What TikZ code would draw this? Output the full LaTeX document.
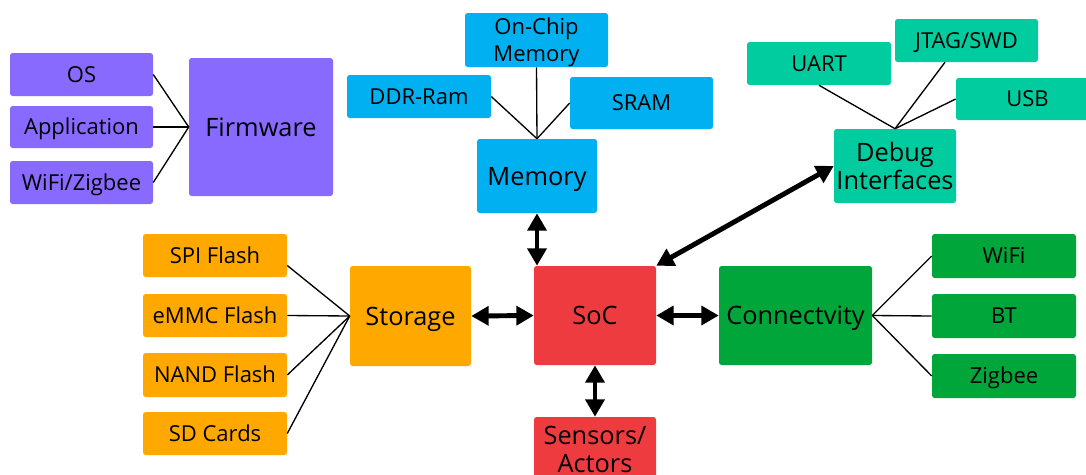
\documentclass[tikz,border=0pt]{standalone}
\usepackage{fontspec}
\setmainfont{Open Sans}
\usetikzlibrary{arrows.meta,calc}
\definecolor{cpurple}{HTML}{886AFF}
\definecolor{cblue}{HTML}{00B0F0}
\definecolor{cteal}{HTML}{00CCA0}
\definecolor{corange}{HTML}{FFA800}
\definecolor{cred}{HTML}{EE3B40}
\definecolor{cgreen}{HTML}{00A63A}
\tikzset{
  box/.style={rectangle, rounded corners=2pt, inner sep=0pt, align=center, text=black, draw=none},
  small/.style={box, font=\fontsize{16.5}{20}\selectfont, text height=15.8pt, text depth=4pt},
  smalltwo/.style={box, font=\fontsize{16.5}{20}\selectfont, text height=35.8pt, text depth=4pt},
  big/.style={box, font=\fontsize{19}{21}\selectfont, text height=18.6pt, text depth=5pt},
  bigtwo/.style={box, font=\fontsize{19}{21}\selectfont, text height=39.6pt, text depth=5pt},
  link/.style={draw=black, line width=1pt},
  bus/.style={draw=black, line width=3.7pt, {Triangle[length=13pt,width=14pt]}-{Triangle[length=13pt,width=14pt]}},
}
\begin{document}
\begin{tikzpicture}[x=0.75pt,y=-0.75pt]
\useasboundingbox (0,0) rectangle (1086,475);
\clip (0,0) rectangle (1086,475);
% Firmware
\node[small, fill=cpurple, minimum width=107.25pt, minimum height=32.25pt] (os) at (81.5,74.5) {OS};
\node[small, fill=cpurple, minimum width=107.25pt, minimum height=31.5pt] (app) at (81.5,127) {Application};
\node[small, fill=cpurple, minimum width=107.25pt, minimum height=32.25pt] (wz) at (81.5,182.5) {WiFi/Zigbee};
\node[big, fill=cpurple, minimum width=108pt, minimum height=103.5pt] (fw) at (261,127) {Firmware};
% Memory
\node[smalltwo, fill=cblue, minimum width=107.25pt, minimum height=40.5pt] (ocm) at (536.5,40) {On-Chip\\Memory};
\node[small, fill=cblue, minimum width=108pt, minimum height=32.25pt] (ddr) at (419,96.5) {DDR-Ram};
\node[small, fill=cblue, minimum width=107.25pt, minimum height=39pt] (sram) at (641.5,103) {SRAM};
\node[big, fill=cblue, minimum width=90pt, minimum height=55.5pt] (mem) at (537,176) {Memory};
% Debug
\node[small, fill=cteal, minimum width=108pt, minimum height=32.25pt] (uart) at (819,63.5) {UART};
\node[small, fill=cteal, minimum width=107.25pt, minimum height=32.25pt] (jtag) at (966.5,40.5) {JTAG/SWD};
\node[small, fill=cteal, minimum width=107.25pt, minimum height=31.5pt] (usb) at (1027.5,99) {USB};
\node[bigtwo, fill=cteal, minimum width=91.5pt, minimum height=55.5pt] (dbg) at (895,166) {Debug\\Interfaces};
% Storage
\node[small, fill=corange, minimum width=108pt, minimum height=32.25pt] (spi) at (215,255.5) {SPI Flash};
\node[small, fill=corange, minimum width=108pt, minimum height=32.25pt] (emmc) at (215,315.5) {eMMC Flash};
\node[small, fill=corange, minimum width=108pt, minimum height=33pt] (nand) at (215,375) {NAND Flash};
\node[small, fill=corange, minimum width=108pt, minimum height=32.25pt] (sd) at (215,433.5) {SD Cards};
\node[big, fill=corange, minimum width=90.75pt, minimum height=75pt] (sto) at (410.5,316) {Storage};
% SoC
\node[big, fill=cred, minimum width=91.5pt, minimum height=74.25pt] (soc) at (595,315.5) {SoC};
\node[bigtwo, fill=cred, minimum width=91.5pt, minimum height=48pt] (sens) at (595,449) {Sensors/\\Actors};
% Connectivity
\node[big, fill=cgreen, minimum width=114.75pt, minimum height=74.25pt] (con) at (795.5,315.5) {Connectvity};
\node[small, fill=cgreen, minimum width=108pt, minimum height=33pt] (wifi) at (1004,256) {WiFi};
\node[small, fill=cgreen, minimum width=108pt, minimum height=33pt] (bt) at (1004,316) {BT};
\node[small, fill=cgreen, minimum width=108pt, minimum height=33pt] (zb) at (1004,376) {Zigbee};
% links
\draw[link] (os.east) -- (fw.west);
\draw[link] (app.east) -- (fw.west);
\draw[link] (wz.east) -- (fw.west);
\draw[link] (ocm.south) -- (mem.north);
\draw[link] (ddr.east) -- (mem.north);
\draw[link] (sram.west) -- (mem.north);
\draw[link] (uart.south) -- (dbg.north);
\draw[link] ($(jtag.south)+(-21.5,0)$) -- (dbg.north);
\draw[link] (usb.west) -- (dbg.north);
\draw[link] ($(spi.east)+(0,10)$) -- (sto.west);
\draw[link] (emmc.east) -- (sto.west);
\draw[link] (nand.east) -- (sto.west);
\draw[link] (sd.east) -- (sto.west);
\draw[link] (con.east) -- (wifi.west);
\draw[link] (con.east) -- (bt.west);
\draw[link] (con.east) -- (zb.west);
% buses
\draw[bus] (sto.east) -- (soc.west);
\draw[bus] (soc.east) -- (con.west);
\draw[bus] (mem.south) -- (mem.south |- soc.north);
\draw[bus] (soc.south) -- (sens.north);
\draw[bus] (soc.north east) -- (dbg.west);
\end{tikzpicture}
\end{document}
